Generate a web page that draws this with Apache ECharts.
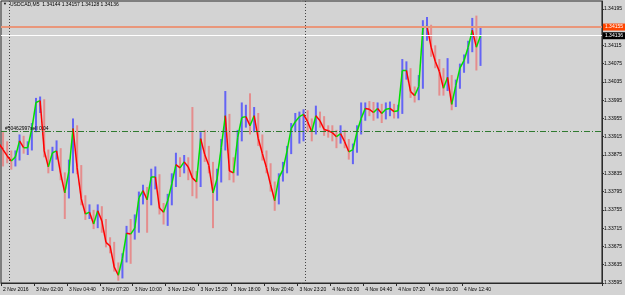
<!DOCTYPE html>
<html><head><meta charset="utf-8">
<script src="https://cdn.jsdelivr.net/npm/echarts@6/dist/echarts.min.js"></script>
<style>html,body{margin:0;padding:0;background:#D3D3D3;}#c{width:625px;height:295px;}</style>
</head><body><div id="c"></div>
<script>
const symbolText = 'USDCAD,M5';
const lastBarText = ['1.34144', '1.34157', '1.34128', '1.34136'];
const tickLabels = ['2 Nov 2016','3 Nov 02:00','3 Nov 04:40','3 Nov 07:20','3 Nov 10:00','3 Nov 12:40','3 Nov 15:20','3 Nov 18:00','3 Nov 20:40','3 Nov 23:20','4 Nov 02:00','4 Nov 04:40','4 Nov 07:20','4 Nov 10:00','4 Nov 12:40'];
const categoryCount = 146;      // 20-minute slots across the chart window
const slotsPerLabel = 8;
const separatorSlots = [2, 74]; // day boundaries 3 Nov 00:00 / 4 Nov 00:00
const firstOpen = 1.33900;
const closePrices = [1.33887,1.33873,1.33862,1.33871,1.33906,1.33891,1.33891,1.33933,1.33990,1.33994,
 1.33884,1.33849,1.33880,1.33884,1.33834,1.33792,1.33840,1.33933,1.33847,1.33779,
 1.33746,1.33750,1.33724,1.33753,1.33731,1.33684,1.33676,1.33630,1.33612,1.33649,
 1.33704,1.33702,1.33715,1.33781,1.33797,1.33777,1.33827,1.33827,1.33759,1.33750,
 1.33775,1.33812,1.33854,1.33847,1.33860,1.33849,1.33825,1.33816,1.33911,1.33876,
 1.33852,1.33792,1.33823,1.33891,1.33961,1.33840,1.33836,1.33913,1.33957,1.33959,
 1.33939,1.33961,1.33911,1.33878,1.33847,1.33810,1.33775,1.33825,1.33843,1.33884,
 1.33933,1.33948,1.33959,1.33964,1.33948,1.33926,1.33961,1.33950,1.33931,1.33928,
 1.33924,1.33915,1.33922,1.33904,1.33882,1.33887,1.33926,1.33955,1.33977,1.33975,
 1.33968,1.33977,1.33966,1.33975,1.33977,1.33970,1.33972,1.34060,1.34060,1.34014,
 1.34005,1.34025,1.34153,1.34157,1.34111,1.34080,1.34058,1.34021,1.34045,1.33986,
 1.34027,1.34065,1.34082,1.34111,1.34148,1.34111,1.34136];
const highPrices = [1.33925,1.33905,1.33885,1.33885,1.33920,1.33917,1.33905,1.33945,1.34000,1.34003,
 1.33997,1.33887,1.33893,1.33907,1.33890,1.33837,1.33865,1.33955,1.33940,1.33853,
 1.33787,1.33767,1.33755,1.33767,1.33763,1.33735,1.33695,1.33685,1.33640,1.33660,
 1.33720,1.33735,1.33745,1.33795,1.33810,1.33805,1.33845,1.33850,1.33833,1.33770,
 1.33790,1.33835,1.33880,1.33870,1.33875,1.33870,1.33980,1.33840,1.33925,1.33930,
 1.33895,1.33860,1.33845,1.33910,1.34015,1.33965,1.33870,1.33930,1.33990,1.33985,
 1.34010,1.33980,1.33967,1.33920,1.33885,1.33857,1.33817,1.33835,1.33860,1.33895,
 1.33945,1.33967,1.33970,1.33975,1.33973,1.33955,1.33983,1.33970,1.33960,1.33940,
 1.33940,1.33930,1.33940,1.33930,1.33910,1.33900,1.33940,1.33990,1.33990,1.33993,
 1.33991,1.33990,1.33987,1.33990,1.33992,1.33987,1.33985,1.34085,1.34080,1.34065,
 1.34025,1.34050,1.34170,1.34177,1.34160,1.34115,1.34085,1.34065,1.34087,1.34050,
 1.34040,1.34075,1.34095,1.34125,1.34175,1.34180,1.34155];
const lowPrices = [1.33850,1.33857,1.33843,1.33850,1.33863,1.33878,1.33875,1.33885,1.33925,1.33967,
 1.33870,1.33835,1.33840,1.33865,1.33820,1.33735,1.33780,1.33835,1.33833,1.33765,
 1.33733,1.33735,1.33713,1.33715,1.33705,1.33673,1.33660,1.33620,1.33600,1.33605,
 1.33640,1.33637,1.33690,1.33705,1.33767,1.33705,1.33765,1.33800,1.33745,1.33723,
 1.33720,1.33765,1.33805,1.33827,1.33835,1.33820,1.33785,1.33780,1.33805,1.33860,
 1.33835,1.33715,1.33775,1.33815,1.33885,1.33820,1.33815,1.33830,1.33905,1.33935,
 1.33920,1.33925,1.33895,1.33863,1.33835,1.33795,1.33753,1.33767,1.33817,1.33835,
 1.33877,1.33925,1.33900,1.33905,1.33925,1.33905,1.33920,1.33935,1.33917,1.33913,
 1.33905,1.33890,1.33900,1.33890,1.33865,1.33855,1.33880,1.33920,1.33950,1.33960,
 1.33950,1.33955,1.33945,1.33953,1.33960,1.33955,1.33955,1.33965,1.34040,1.34000,
 1.33990,1.33995,1.34020,1.34125,1.34090,1.34065,1.34005,1.34005,1.34015,1.33973,
 1.33980,1.34020,1.34055,1.34075,1.34100,1.34060,1.34070];
const askPrice = 1.34155;
const bidPrice = 1.34136;
const orderPrice = 1.33926;
const orderText = '#50462997sell 0.04';
const axisBase = 1.33595;
const axisStepPts = 40;
const axisTopPts = 617;

const FONT = 'Liberation Sans';
const toPts = p => Math.round((p - axisBase) * 1e6) / 10;

const cats = [];
for (let i = 0; i < categoryCount; i++) {
  const m = 23 * 60 + 20 + i * 20;
  const d = Math.floor(m / 1440), mm = m % 1440;
  cats.push((2 + d) + ' Nov ' + String(Math.floor(mm / 60)).padStart(2, '0') + ':' + String(mm % 60).padStart(2, '0'));
}
const lastLabelSlot = (tickLabels.length - 1) * slotsPerLabel;
const showSlot = i => i % slotsPerLabel === 0 && i <= lastLabelSlot;

const stickData = closePrices.map((c, i) => {
  const o = i === 0 ? firstOpen : closePrices[i - 1];
  return [i, toPts(lowPrices[i]), toPts(highPrices[i]), c >= o ? 1 : 0];
});
const lineData = closePrices.map((c, i) => {
  const o = i === 0 ? firstOpen : closePrices[i - 1];
  return [i, toPts(o), toPts(c)];
});

const chart = echarts.init(document.getElementById('c'), null, {renderer: 'canvas'});
chart.setOption({
  animation: false,
  backgroundColor: '#D3D3D3',
  textStyle: {fontFamily: FONT},
  grid: {left: 1, right: 22, top: 1, bottom: 12, show: true, borderColor: '#2a2a2a', borderWidth: 1, backgroundColor: 'transparent'},
  graphic: [
    {type: 'text', left: 3, top: 2, style: {text: '▼', fontSize: 4, fill: '#000', fontFamily: FONT}},
    {type: 'text', left: 10, top: 2, style: {text: symbolText + '  ' + lastBarText.join(' '), fontSize: 5, fill: '#000', fontFamily: FONT}}
  ],
  xAxis: {
    type: 'category', data: cats, boundaryGap: true,
    axisLine: {lineStyle: {color: '#2a2a2a', width: 1}},
    axisTick: {show: true, interval: i => showSlot(i), length: 3, lineStyle: {color: '#2a2a2a'}},
    axisLabel: {interval: i => showSlot(i), formatter: (v, i) => showSlot(i) ? tickLabels[i / slotsPerLabel] : '',
      fontSize: 5, color: '#000', align: 'left', margin: 4, fontFamily: FONT},
    splitLine: {show: true, interval: i => separatorSlots.includes(i), lineStyle: {color: '#444', type: [1, 2], width: 1}}
  },
  yAxis: {
    type: 'value', position: 'right', min: 0, max: axisTopPts, interval: axisStepPts, scale: false,
    axisLine: {show: true, lineStyle: {color: '#2a2a2a'}},
    axisTick: {show: true, length: 2, lineStyle: {color: '#2a2a2a'}},
    splitLine: {show: false},
    axisLabel: {fontSize: 5, color: '#000', margin: 2, showMaxLabel: false, fontFamily: FONT,
      formatter: v => (axisBase + v / 1e5).toFixed(5)}
  },
  series: [
    {
      type: 'custom', z: 2, data: stickData, encode: {x: 0, y: [1, 2]},
      renderItem: (params, api) => {
        const x = api.value(0);
        const lo = api.coord([x, api.value(1)]);
        const hi = api.coord([x, api.value(2)]);
        const up = api.value(3) === 1;
        return {type: 'rect', shape: {x: lo[0] - 1, y: hi[1], width: 2, height: lo[1] - hi[1]},
          style: {fill: up ? 'rgba(80,80,250,0.85)' : 'rgba(232,128,128,0.85)'}};
      },
      markLine: {
        silent: true, symbol: ['none', 'none'], animation: false,
        data: [
          {yAxis: toPts(orderPrice), lineStyle: {color: '#2f7a2f', width: 1, type: [6, 2, 1, 2]},
            label: {show: true, position: 'insideStartTop', formatter: orderText, color: '#000', fontSize: 5, distance: [4, 1], fontFamily: FONT}},
          {yAxis: toPts(bidPrice), lineStyle: {color: '#ffffff', width: 1, type: 'solid'},
            label: {show: true, position: 'end', formatter: bidPrice.toFixed(5), color: '#fff', backgroundColor: '#000', fontSize: 5, padding: [1, 2, 1, 2], distance: 1, fontFamily: FONT}},
          {yAxis: toPts(askPrice), lineStyle: {color: '#E9967A', width: 2, type: 'solid'},
            label: {show: true, position: 'end', formatter: askPrice.toFixed(5), color: '#fff', backgroundColor: '#FF4500', fontSize: 5, padding: [1, 2, 1, 2], distance: 1, fontFamily: FONT}}
        ]
      }
    },
    {
      type: 'custom', z: 3, data: lineData, encode: {x: 0, y: [1, 2]},
      renderItem: (params, api) => {
        const x = api.value(0);
        const a = api.coord([x - 1, api.value(1)]);
        const b = api.coord([x, api.value(2)]);
        const up = api.value(2) >= api.value(1);
        return {type: 'line', shape: {x1: a[0], y1: a[1], x2: b[0], y2: b[1]},
          style: {stroke: up ? '#00e000' : '#ff0000', lineWidth: 1.5}};
      }
    }
  ]
});
</script></body></html>
